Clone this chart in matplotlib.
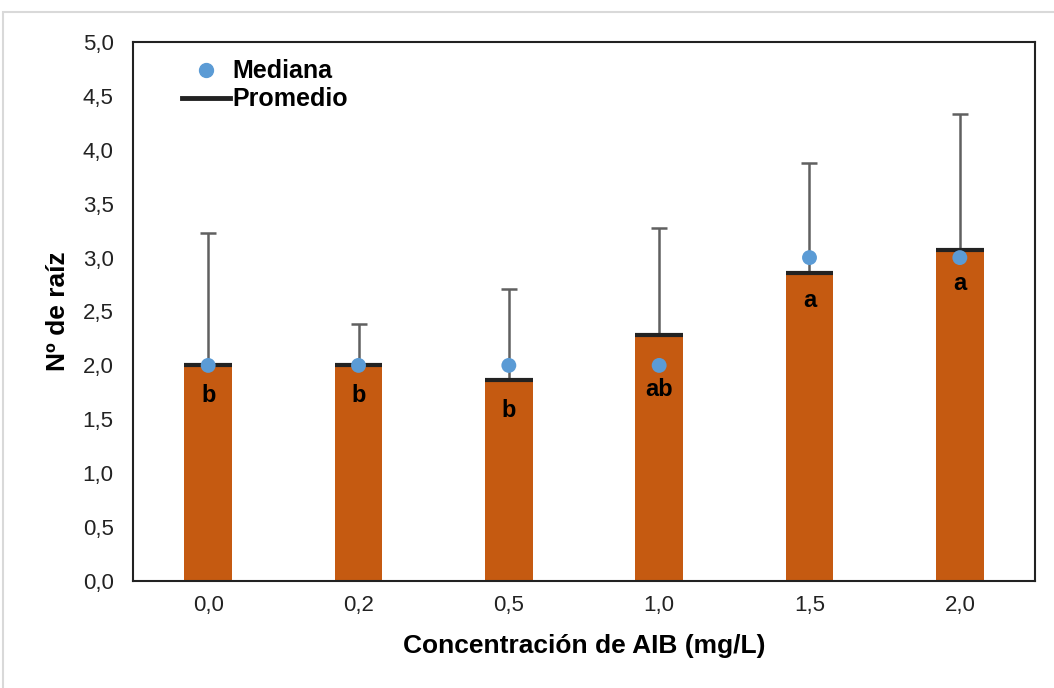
import matplotlib
matplotlib.use('Agg')
import matplotlib.pyplot as plt
from matplotlib.patches import Rectangle
from matplotlib.lines import Line2D

plt.rcParams['font.family'] = ['Liberation Sans', 'DejaVu Sans']

# data
categories = ['0,0', '0,2', '0,5', '1,0', '1,5', '2,0']
promedio = [2.00, 2.00, 1.86, 2.28, 2.86, 3.07]
error_top = [3.23, 2.38, 2.71, 3.27, 3.88, 4.33]
mediana = [2.0, 2.0, 2.0, 2.0, 3.0, 3.0]
letras = ['b', 'b', 'b', 'ab', 'a', 'a']
letra_y = [1.72, 1.72, 1.58, 1.78, 2.60, 2.76]

bar_color = '#C55A11'
dot_color = '#5B9BD5'

fig = plt.figure(figsize=(10.54, 6.88), dpi=100)
# light outer frame of the original picture
fig.patches.append(Rectangle((3 / 1054, -0.1), 1.2, 1 - 12 / 688 + 0.1,
                             transform=fig.transFigure, fill=False,
                             edgecolor='#d9d9d9', linewidth=1.5))

ax = fig.add_axes([133 / 1054, 1 - 581 / 688, (1035 - 133) / 1054, (581 - 42) / 688])

x = list(range(len(categories)))
width = 0.315
ax.bar(x, promedio, width=width, color=bar_color, zorder=2)

# error bars (upper only)
for xi, m, t in zip(x, promedio, error_top):
    ax.errorbar(xi, m, yerr=[[0], [t - m]], fmt='none', ecolor='#606060',
                elinewidth=1.8, capsize=6, capthick=1.8, zorder=1)

# mean line on top of each bar
ax.hlines(promedio, [xi - width / 2 for xi in x], [xi + width / 2 for xi in x],
          colors='#222222', linewidth=3, zorder=3)

ax.scatter(x, mediana, s=115, color=dot_color, zorder=4, edgecolors='none')

for xi, l, ly in zip(x, letras, letra_y):
    ax.text(xi, ly, l, ha='center', va='center', fontsize=17, fontweight='bold', zorder=5)

ax.set_xlim(-0.5, len(categories) - 0.5)
ax.set_ylim(0, 5)
ax.set_yticks([i * 0.5 for i in range(11)])
ax.set_yticklabels([('%.1f' % (i * 0.5)).replace('.', ',') for i in range(11)])
ax.set_xticks(x)
ax.set_xticklabels(categories)
ax.tick_params(length=0, labelsize=16, colors='#222222')
ax.tick_params(axis='y', pad=14)
ax.tick_params(axis='x', pad=10)
for s in ax.spines.values():
    s.set_linewidth(1.5)
    s.set_color('#222222')

ax.set_xlabel('Concentración de AIB (mg/L)', fontsize=19, fontweight='bold', labelpad=13)
ax.set_ylabel('Nº de raíz', fontsize=19, fontweight='bold', labelpad=9)

handles = [Line2D([], [], marker='o', linestyle='none', color=dot_color, markersize=10),
           Line2D([], [], color='#222222', linewidth=3.5)]
leg = ax.legend(handles, ['Mediana', 'Promedio'], loc='upper left',
                bbox_to_anchor=(0.035, 1.0), frameon=False, handlelength=1.9,
                handletextpad=0.1, labelspacing=0.15, borderpad=0.2,
                prop={'size': 18, 'weight': 'bold'})

fig.savefig('out.png', dpi=100, facecolor='white')
